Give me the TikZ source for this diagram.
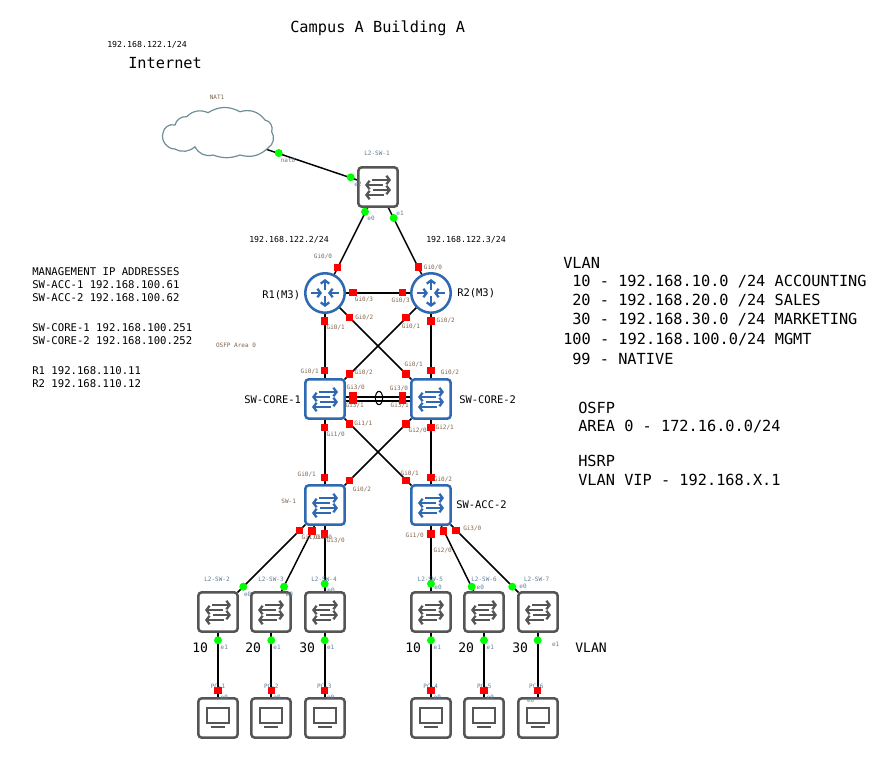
\documentclass[tikz,border=0pt]{standalone}
\usepackage{fontspec}
\setmainfont{DejaVu Sans Mono}
\usetikzlibrary{shapes.geometric,arrows.meta}
\pgfdeclarelayer{back}
\pgfsetlayers{back,main}
\definecolor{devblue}{HTML}{2F69B3}
\definecolor{devgray}{HTML}{555555}
\definecolor{cloudc}{HTML}{6F8F98}
\definecolor{labbrown}{HTML}{80644C}
\definecolor{labblue}{HTML}{5F7F9A}
\tikzset{
 x=0.75pt,y=-0.75pt,
 device/.style={draw=#1,fill=white,line width=1.9pt,rounded corners=2.4pt,minimum size=29.4pt,inner sep=0,outer sep=0},
 routerdev/.style={circle,draw=devblue,fill=white,line width=1.9pt,minimum size=29.6pt,inner sep=0,outer sep=0},
 link/.style={draw=black,line width=1.1pt},
 redport/.style={fill=red,inner sep=0,minimum size=5.6pt,outer sep=0},
 greenport/.style={circle,fill=green,inner sep=0,minimum size=6pt,outer sep=0},
 tiny lab/.style={inner sep=0,text=labbrown,font=\fontsize{4.5}{5}\selectfont},
 blue lab/.style={inner sep=0,text=labblue,font=\fontsize{4.5}{5}\selectfont},
 big/.style={anchor=west,inner sep=0,font=\fontsize{11.46}{13}\selectfont},
 mid/.style={anchor=west,inner sep=0,font=\fontsize{7.97}{10}\selectfont},
 ip/.style={anchor=west,inner sep=0,font=\fontsize{6.2}{8}\selectfont},
 devlab/.style={anchor=west,inner sep=0,font=\fontsize{7.85}{10}\selectfont},
 vl/.style={anchor=west,inner sep=0,font=\fontsize{9.8}{12}\selectfont},
 arr/.style={line width=1.9pt,-{Straight Barb[length=2.4pt,width=6.4pt,line width=1.7pt]},draw=#1},
 swarrows/.pic={
  \draw[arr=#1] (-6,-7) -- (13,-7);
  \draw[arr=#1] (5,-2) -- (-13,-2);
  \draw[arr=#1] (-5,3) -- (13,3);
  \draw[arr=#1] (6,8) -- (-13,8);
 },
 rtarrows/.pic={
  \draw[arr=devblue] (0,-3) -- (0,-14);
  \draw[arr=devblue] (0,3) -- (0,14);
  \draw[arr=devblue] (-14,0) -- (-3,0);
  \draw[arr=devblue] (14,0) -- (3,0);
 },
 pcicon/.pic={
  \draw[devgray,line width=1.1pt] (-10.8,-9.8) rectangle (10.8,5.2);
  \draw[devgray,line width=1.3pt] (-7,9) -- (7,9);
 },
}
\begin{document}
\begin{tikzpicture}
\useasboundingbox (0,0) rectangle (878,771);
\begin{pgfonlayer}{back}
\fill[white] (0,0) rectangle (878,771);
\end{pgfonlayer}

% devices
\node[inner sep=0,minimum width=60pt,minimum height=20pt] (nat) at (218,133) {};
\node[device=devgray] (l2a) at (378,187) {};
\node[routerdev] (r1) at (325,293) {};
\node[routerdev] (r2) at (431,293) {};
\node[device=devblue] (core1) at (325,399) {};
\node[device=devblue] (core2) at (431,399) {};
\node[device=devblue] (sw1) at (325,505) {};
\node[device=devblue] (acc2) at (431,505) {};
\foreach \n/\x in {b/218,c/271,d/325,e/431,f/484,g/538}{
  \node[device=devgray] (l2\n) at (\x,612) {};
  \node[device=devgray] (pc\n) at (\x,718) {};
  \pic at (l2\n) {swarrows=devgray};
  \pic at (pc\n) {pcicon};
  \begin{pgfonlayer}{back}
    \draw[link] (l2\n) -- (pc\n);
  \end{pgfonlayer}
}
\pic at (l2a) {swarrows=devgray};
\pic at (core1) {swarrows=devblue};
\pic at (core2) {swarrows=devblue};
\pic at (sw1) {swarrows=devblue};
\pic at (acc2) {swarrows=devblue};
\pic at (r1) {rtarrows};
\pic at (r2) {rtarrows};

% cloud
\draw[cloudc,fill=white,line width=0.9pt]
 (175,125) to[bend left=40] (186.7,116.7) to[bend left=35] (208,112.7) to[bend left=30] (240,111.7)
 to[bend left=35] (265,120) to[bend left=50] (271.7,131.7) to[bend left=45] (268,148)
 to[bend left=30] (240,155) to[bend left=20] (213,155) to[bend left=40] (195,146.7)
 to[bend left=35] (175,149) to[bend left=55] (163,133) to[bend left=50] cycle;

% connectors
\begin{pgfonlayer}{back}
 \draw[link] (nat) -- (l2a);
 \draw[link] (l2a) -- (r1);
 \draw[link] (l2a) -- (r2);
 \draw[link] (r1) -- (r2);
 \draw[link] (r1) -- (core1);
 \draw[link] (r1) -- (core2);
 \draw[link] (r2) -- (core1);
 \draw[link] (r2) -- (core2);
 \draw[link] ([yshift=1.6pt]core1.east) -- ([yshift=1.6pt]core2.west);
 \draw[link] ([yshift=-1.6pt]core1.east) -- ([yshift=-1.6pt]core2.west);
 \draw[link] (core1) -- (sw1);
 \draw[link] (core1) -- (acc2);
 \draw[link] (core2) -- (sw1);
 \draw[link] (core2) -- (acc2);
 \draw[link] (sw1) -- (l2b);
 \draw[link] (sw1) -- (l2c);
 \draw[link] (sw1) -- (l2d);
 \draw[link] (acc2) -- (l2e);
 \draw[link] (acc2) -- (l2f);
 \draw[link] (acc2) -- (l2g);
\end{pgfonlayer}
\node[ellipse,draw=black,line width=0.8pt,minimum width=5.4pt,minimum height=10pt,inner sep=0] (lag) at (379,398) {};

% ports
\foreach \x/\y [count=\i] in {337.3/267.3,418.3/267,353/292.7,402.7/292.7,324.7/321,349.7/317.7,406/317.7,431/321,
  324.7/370.7,349.7/374,406/374,431/370.7,353/395.5,353/400,402.7/395.5,402.7/400,349.7/424,324.7/427.3,406/424,431/427.3,
  324.7/477.3,349.7/480.7,406/480.7,431/477.3,299.7/530.7,312/531,324.7/534,431/534,443.7/531,456/530.7,
  218/690.3,271.3/690.3,324.7/690.3,431/690.3,484/690.3,537.7/690.3}
  \node[redport] (rp\i) at (\x,\y) {};
\foreach \x/\y [count=\i] in {278.7/153,350.7/177.3,365/211.7,393.7/218,243.3/586.7,284/586.7,324.7/583.7,431/583.7,471.7/586.7,512.3/586.7,
  218/640.3,271.3/640.3,324.7/640.3,431/640.3,484/640.3,537.7/640.3}
  \node[greenport] (gp\i) at (\x,\y) {};

% small interface labels
\foreach \x/\y/\t [count=\i] in {
 323/256/{Gi0/0},433/267/{Gi0/0},364/299.7/{Gi0/3},400.7/300/{Gi0/3},364.3/317.7/{Gi0/2},335.7/327.3/{Gi0/1},411/326.7/{Gi0/1},445.7/320.7/{Gi0/2},
 309.7/371.7/{Gi0/1},363.7/372.7/{Gi0/2},413.7/364/{Gi0/1},450/372.7/{Gi0/2},355.7/387.7/{Gi3/0},354.7/405.7/{Gi3/1},399/388.3/{Gi3/0},399.7/405.7/{Gi3/1},
 363.3/423.7/{Gi1/1},335.7/434.7/{Gi1/0},417.7/430.3/{Gi2/0},444.7/427.7/{Gi2/1},
 306.7/474.7/{Gi0/1},362/489.3/{Gi0/2},409.7/473.7/{Gi0/1},443/479.3/{Gi0/2},
 310.7/537.3/{Gi1/0},323/537/{Gi2/0},335.7/540.7/{Gi3/0},414.7/535.7/{Gi1/0},442.7/550.7/{Gi2/0},472.3/528.7/{Gi3/0},
 236/345.7/OSFP Area 0,217/97/NAT1,288.7/501.7/SW-1}
 \node[tiny lab] (il\i) at (\x,\y) {\t};
\foreach \x/\y/\t [count=\i] in {
 377/153/L2-SW-1,217/579.7/L2-SW-2,271/579.7/L2-SW-3,324/579.7/L2-SW-4,430.3/579.7/L2-SW-5,484/579.7/L2-SW-6,536.7/579.7/L2-SW-7,
 218/686.7/PC-1,271.3/686.7/PC-2,324.3/686.7/PC-3,430.7/686.7/PC-4,484.3/686.7/PC-5,536.3/686.7/PC-6,
 288/160/nat0,358/184/e2,371/218/e0,400/213/e1,
 247.7/594.7/e0,289.3/594.7/e0,331/590.7/e0,438/587.7/e0,480.3/587.7/e0,523/586.7/e0,
 224.3/647.7/e1,277/647.7/e1,330.7/647.7/e1,437.3/647.3/e1,490.3/647.3/e1,555.7/644/e1,
 224.3/697.3/e0,277/697.3/e0,330.7/697.3/e0,437.3/697.3/e0,490.3/697.3/e0,530.7/700.7/e0}
 \node[blue lab] (bl\i) at (\x,\y) {\t};

% free text
\node[big] (title) at (290,28.5) {Campus A Building A};
\node[ip] (ipa) at (107,45) {192.168.122.1/24};
\node[big] (inet) at (128,63) {Internet};
\node[ip] (ipb) at (249,240) {192.168.122.2/24};
\node[ip] (ipc) at (426,240) {192.168.122.3/24};
\node[devlab] (nr1) at (262,295) {R1(M3)};
\node[devlab] (nr2) at (457,293) {R2(M3)};
\node[devlab] (nc1) at (244,400) {SW-CORE-1};
\node[devlab] (nc2) at (459,400) {SW-CORE-2};
\node[devlab] (na2) at (456,505) {SW-ACC-2};

\foreach \y/\t [count=\i] in {272/MANAGEMENT IP ADDRESSES,285/SW-ACC-1 192.168.100.61,298/SW-ACC-2 192.168.100.62,
 328/SW-CORE-1 192.168.100.251,341/SW-CORE-2 192.168.100.252,371/R1 192.168.110.11,384/R2 192.168.110.12}
 \node[mid] (mg\i) at (32,\y) {\t};

\node[big] (v0) at (563,263) {VLAN};
\node[big] (v1) at (572,282) {10 - 192.168.10.0 /24 ACCOUNTING};
\node[big] (v2) at (572,301) {20 - 192.168.20.0 /24 SALES};
\node[big] (v3) at (572,320) {30 - 192.168.30.0 /24 MARKETING};
\node[big] (v4) at (563,340) {100 - 192.168.100.0/24 MGMT};
\node[big] (v5) at (572,359) {99 - NATIVE};
\node[big] (o1) at (578,408) {OSFP};
\node[big] (o2) at (578,427) {AREA 0 - 172.16.0.0/24};
\node[big] (h1) at (578,461) {HSRP};
\node[big] (h2) at (578,480) {VLAN VIP - 192.168.X.1};

\foreach \x/\t [count=\i] in {192/10,245/20,299/30,405/10,458/20,512/30,575/VLAN}
 \node[vl] (vv\i) at (\x,648) {\t};
\end{tikzpicture}
\end{document}
